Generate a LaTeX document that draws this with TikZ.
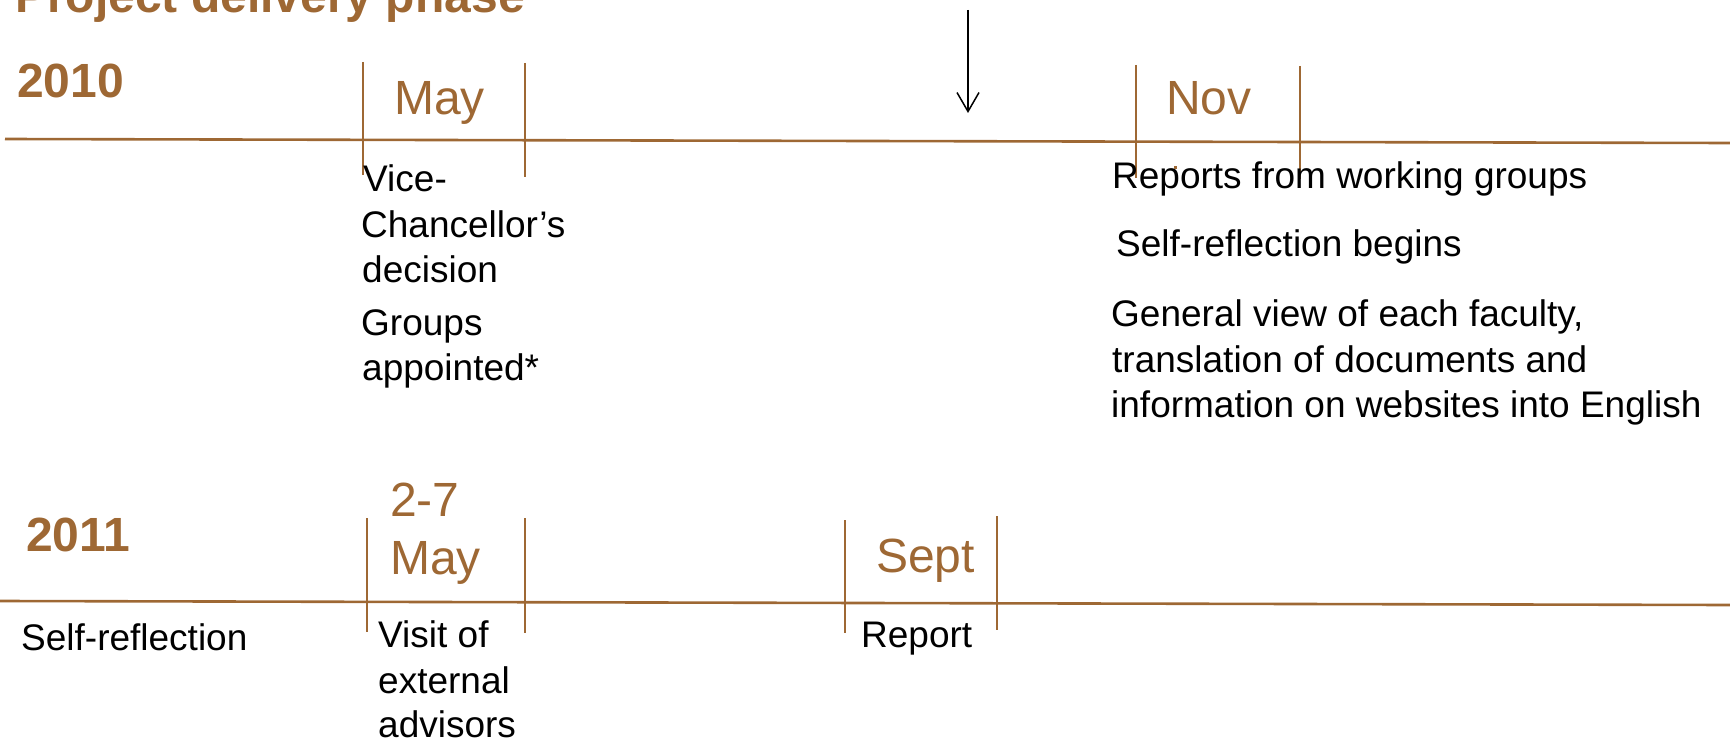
\documentclass[tikz,border=0pt]{standalone}
\usepackage{fontspec}
\setmainfont{Liberation Sans}
\usetikzlibrary{arrows.meta}
\definecolor{tlbrown}{RGB}{158,104,52}
\begin{document}
\begin{tikzpicture}[x=1pt,y=-1pt,
  axis/.style={draw=tlbrown,line width=2.6pt},
  tickline/.style={draw=tlbrown,line width=1.8pt},
  yearlabel/.style={anchor=base west,inner sep=0pt,text=tlbrown,
    font=\fontsize{48}{57.6}\selectfont\bfseries},
  monthlabel/.style={anchor=base west,inner sep=0pt,text=tlbrown,
    font=\fontsize{48}{57.6}\selectfont},
  bodytext/.style={anchor=base west,inner sep=0pt,text=black,
    font=\fontsize{37}{44}\selectfont}]
\useasboundingbox (0,0) rectangle (1730,741);

% heading and years
\node[yearlabel] (title) at (15,13) {Project delivery phase};
\node[yearlabel] (y2010) at (17,98) {2010};
\node[yearlabel] (y2011) at (26,551) {2011};

% time axes
\coordinate (a1s) at (5,139);
\coordinate (a1e) at (1730,143);
\coordinate (a2s) at (0,601);
\coordinate (a2e) at (1730,605);
\draw[axis] (a1s) -- (a1e);
\draw[axis] (a2s) -- (a2e);

% 2010 markers
\coordinate (m1t) at (363,62);  \coordinate (m1b) at (363,175);
\coordinate (m2t) at (525,63);  \coordinate (m2b) at (525,177);
\coordinate (n1t) at (1136,65); \coordinate (n1b) at (1136,178);
\coordinate (n2t) at (1300,66); \coordinate (n2b) at (1300,179);
\draw[tickline] (m1t) -- (m1b);
\draw[tickline] (m2t) -- (m2b);
\draw[tickline,line width=1.5pt] (n1t) -- (n1b);
\draw[tickline,line width=1.5pt] (n2t) -- (n2b);

% 2011 markers
\coordinate (p1t) at (367,518); \coordinate (p1b) at (367,632);
\coordinate (p2t) at (525,518); \coordinate (p2b) at (525,633);
\coordinate (s1t) at (845,520); \coordinate (s1b) at (845,633);
\coordinate (s2t) at (997,516); \coordinate (s2b) at (997,630);
\draw[tickline] (p1t) -- (p1b);
\draw[tickline] (p2t) -- (p2b);
\draw[tickline] (s1t) -- (s1b);
\draw[tickline] (s2t) -- (s2b);

% "now" pointer
\coordinate (nowtop) at (968,10);
\coordinate (nowtip) at (968,113);
\draw[black,line width=1.5pt,-{Straight Barb[length=19pt,width=22pt,line width=1.5pt]}] (nowtop) -- (nowtip);

% month labels
\node[monthlabel] (may10) at (394,115) {May};
\node[monthlabel] (nov10) at (1166,115) {Nov};
\node[monthlabel] (days11) at (390,516) {2-7};
\node[monthlabel] (may11) at (390,574) {May};
\node[monthlabel] (sep11) at (876,572) {Sept};

% May 2010 notes
\node[bodytext] (vc1) at (363,192) {Vice-};
\node[bodytext] (vc2) at (361,237) {Chancellor’s};
\node[bodytext] (vc3) at (362,282) {decision};
\node[bodytext] (gr1) at (361,335) {Groups};
\node[bodytext] (gr2) at (362,380) {appointed*};

% November 2010 notes
\node[bodytext] (rep) at (1112,188) {Reports from working groups};
\node[bodytext] (srb) at (1116,256) {Self-reflection begins};
\node[bodytext] (gv1) at (1111,326) {General view of each faculty,};
\node[bodytext] (gv2) at (1112,372) {translation of documents and};
\node[bodytext] (gv3) at (1111,417) {information on websites into English};
\fill[tlbrown] (1173.5,166) rectangle (1176.5,169);

% 2011 notes
\node[bodytext] (sr11) at (21,650) {Self-reflection};
\node[bodytext] (vi1) at (378,647) {Visit of};
\node[bodytext] (vi2) at (378,693) {external};
\node[bodytext] (vi3) at (378,737) {advisors};
\node[bodytext] (rp11) at (861,647) {Report};
\end{tikzpicture}
\end{document}
